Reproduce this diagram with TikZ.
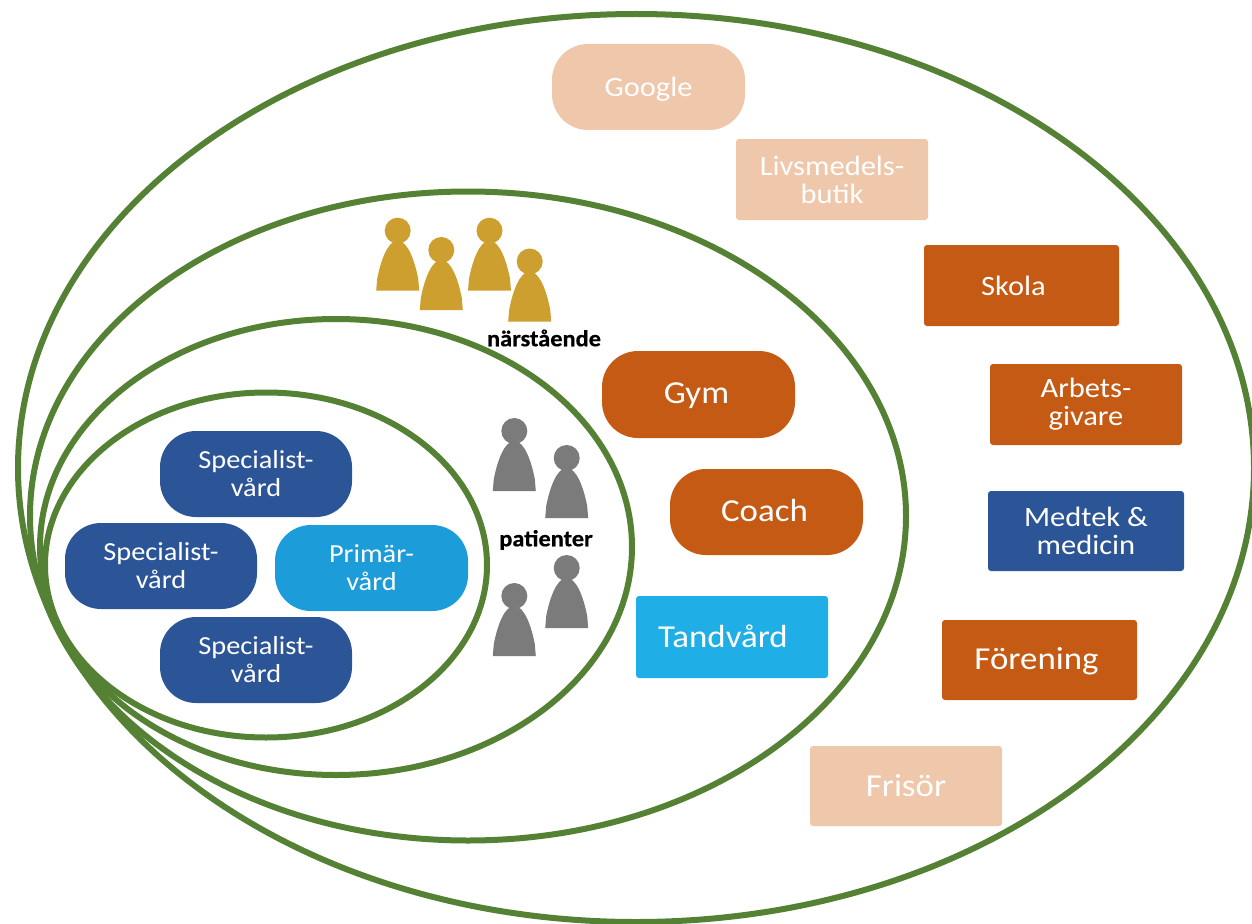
\documentclass[tikz,border=0pt]{standalone}
\usepackage{fontspec}
\setmainfont[FakeStretch=1.09]{Carlito}
\newfontfamily\capfont[FakeStretch=1.06,FakeBold=0.6]{Carlito Bold}
\usetikzlibrary{shapes.geometric}
\definecolor{ringgreen}{HTML}{558135}
\definecolor{peach}{HTML}{EFC7AB}
\definecolor{rust}{HTML}{C55A14}
\definecolor{navy}{HTML}{2C5597}
\definecolor{sky}{HTML}{1FAEE6}
\definecolor{skydark}{HTML}{1C9CD8}
\definecolor{gold}{HTML}{CD9F2E}
\definecolor{pawngray}{HTML}{7B7B7B}
\tikzset{
  x=1pt,y=-1pt,
  ring/.style={ellipse,draw=ringgreen,line width=6pt,inner sep=0pt,fill=none},
  tile/.style={rectangle,inner sep=0pt,text=white,align=center,font=\fontsize{28}{28}\selectfont,rounded corners=3pt},
  pill/.style={tile,rounded corners=36pt},
  small/.style={font=\fontsize{26}{28}\selectfont},
  big/.style={font=\fontsize{32}{34}\selectfont},
  caption/.style={inner sep=0pt,font=\fontsize{23}{25}\capfont,text=black},
  pawn/.pic={
    \fill (0,0) circle[radius=13];
    \fill (-21.5,60) -- (-20.5,48) .. controls (-17,30) and (-10,10) .. (0,10)
       .. controls (10,10) and (17,30) .. (20.5,48) -- (21.5,60) -- cycle;
  }
}
\newcommand{\tileat}[8]{\node[#1,fill=#2,minimum width=#5pt-#3pt,minimum height=#6pt-#4pt] (#7) at ({(#3+#5)/2},{(#4+#6)/2}) {#8};}
\newcommand{\nudge}[2]{\raisebox{#1}[\height][\depth]{#2}}
\begin{document}
\begin{tikzpicture}
\useasboundingbox (0,0) rectangle (1252,923);
\node[ring,minimum width=1236pt,minimum height=908pt] (r1) at (636,468) {};
\node[ring,minimum width=876pt,minimum height=649pt] (r2) at (468,516) {};
\node[ring,minimum width=592pt,minimum height=456pt] (r3) at (336,547) {};
\node[ring,minimum width=442pt,minimum height=345pt] (r4) at (266,565) {};
\tileat{pill}{peach}{552}{44}{745}{130}{google}{\nudge{-2pt}{Google}}
\tileat{tile}{peach}{736}{139}{928}{220}{livs}{Livsmedels-\\butik}
\tileat{tile}{rust}{924}{245}{1119}{326}{skola}{\hspace*{-16pt}Skola}
\tileat{tile}{rust}{990}{364}{1182}{445}{arbets}{Arbets-\\givare}
\tileat{tile}{navy}{988}{491}{1184}{571}{medtek}{Medtek \&\\medicin}
\tileat{tile,big}{rust}{942}{620}{1137}{700}{forening}{\hspace*{-6pt}\nudge{-1pt}{Förening}}
\tileat{tile,big}{peach}{810}{746}{1002}{826}{frisor}{Frisör}
\tileat{pill,big}{rust}{602}{351}{795}{438}{gym}{\hspace*{-4pt}\nudge{-1pt}{Gym}}
\tileat{pill,big}{rust}{670}{469}{863}{555}{coach}{\hspace*{-4pt}\nudge{1pt}{Coach}}
\tileat{tile,big}{sky}{636}{596}{828}{678}{tand}{\hspace*{-18pt}\nudge{1pt}{Tandvård}}
\tileat{pill,small}{navy}{160}{431}{352}{517}{sp1}{Specialist-\\vård}
\tileat{pill,small}{navy}{65}{523}{257}{609}{sp2}{Specialist-\\vård}
\tileat{pill,small}{skydark}{275}{525}{468}{611}{prim}{Primär-\\vård}
\tileat{pill,small}{navy}{160}{617}{352}{703}{sp3}{Specialist-\\vård}
\path[fill=gold] (397.7,230.7) pic {pawn} (441.3,250) pic {pawn} (489.5,230.7) pic {pawn} (529.7,261.5) pic {pawn};
\path[fill=pawngray] (514.3,431) pic {pawn} (566.7,458) pic {pawn} (566.7,568) pic {pawn} (514.3,596) pic {pawn};
\node[caption] (nar) at (544,338) {närstående};
\node[caption] (pat) at (546,540) {patienter};
\end{tikzpicture}
\end{document}
